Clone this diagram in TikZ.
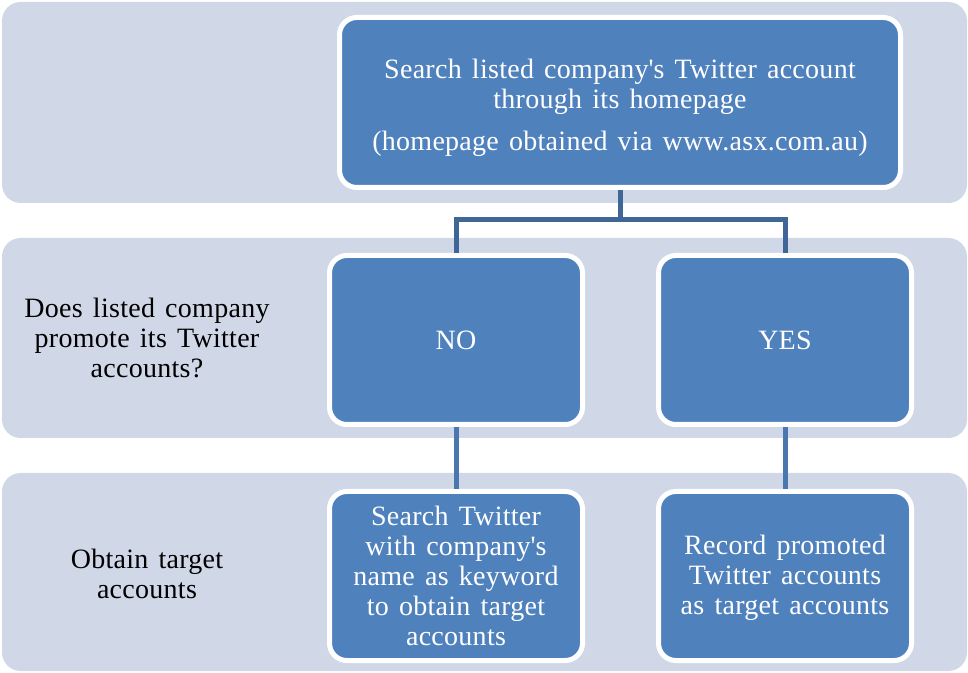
\documentclass[tikz,border=0pt]{standalone}
\usepackage{fontspec}
\setmainfont[WordSpace=1.4,LetterSpace=1]{Liberation Serif}

\definecolor{bandfill}{HTML}{D0D8E8}
\definecolor{boxfill}{HTML}{4F81BD}
\definecolor{linkdark}{HTML}{3E6797}
\definecolor{linklight}{HTML}{4A77AE}

\begin{document}
\begin{tikzpicture}[x=0.75pt,y=0.75pt,yscale=-1,xscale=1,
  band/.style={fill=bandfill, draw=none, rounded corners=14pt},
  stepbox/.style={fill=boxfill, draw=white, line width=3.75pt, rounded corners=13pt,
    text=white, align=center, inner sep=0pt, font=\fontsize{21}{22.5}\selectfont,
    minimum width=189.75pt, minimum height=126.75pt},
  rowlabel/.style={align=center, font=\fontsize{21}{22.5}\selectfont},
  link/.style={draw=linkdark, line width=3.75pt},
  sublink/.style={draw=linklight, line width=3.75pt}]

\useasboundingbox (0,0) rectangle (968,673);

%Shape: Rectangle (three bands)
\path[band] (2,2) rectangle (967,203);
\path[band] (2,238) rectangle (967,438);
\path[band] (2,473) rectangle (967,671);

% Text Node
\node[rowlabel] (qlabel) at (147,338) {Does listed company\\promote its Twitter\\accounts?};
% Text Node
\node[rowlabel] (tlabel) at (147,574) {Obtain target\\accounts};

%Shape: Rounded Rectangle
\node[stepbox, minimum width=420.75pt, minimum height=127.5pt] (search) at (620,102.5)
  {\rule{0pt}{22pt}Search listed company\textquotesingle s Twitter account\\through its homepage\\[9pt](homepage obtained via www.asx.com.au)};
\node[stepbox] (no) at (456,340) {NO};
\node[stepbox] (yes) at (785,340) {YES};
\node[stepbox] (searchtw) at (456,576)
  {Search Twitter\\with company\textquotesingle s\\name as keyword\\to obtain target\\accounts};
\node[stepbox] (record) at (785,576)
  {\rule{0pt}{18pt}Record promoted\\Twitter accounts\\as target accounts};

%Straight Lines
\coordinate (split) at (620,220);
\draw[link] (search.south) -- (split);
\draw[link] (split) -| (no.north);
\draw[link] (split) -| (yes.north);
\draw[sublink] (no.south) -- (searchtw.north);
\draw[sublink] (yes.south) -- (record.north);

\end{tikzpicture}
\end{document}
